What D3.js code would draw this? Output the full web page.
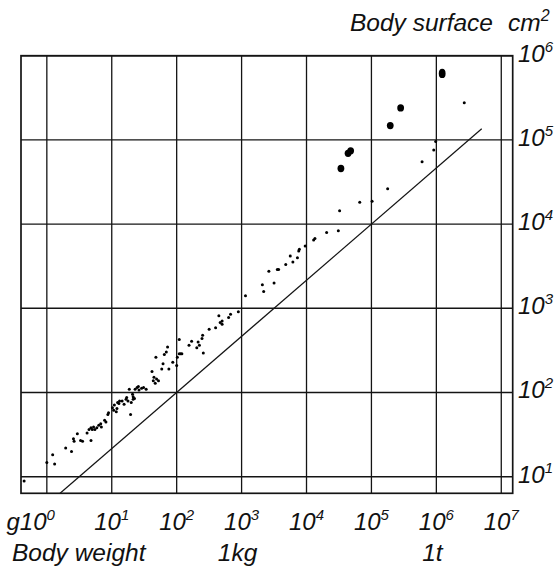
<!DOCTYPE html>
<html>
<head>
<meta charset="utf-8">
<script src="https://cdn.jsdelivr.net/npm/d3@7/dist/d3.min.js"></script>
<style>
  html, body { margin: 0; padding: 0; background: #fff; }
  svg { display: block; }
  text { font-family: "Liberation Sans", Arial, sans-serif; font-style: italic; fill: #111; }
</style>
</head>
<body>
<svg id="chart" width="554" height="570"></svg>
<script>
// Body weight (log10 g) and body surface (log10 cm²) of individual animals
const logWeight = [
  -0.35, 0.00, 0.09, 0.12, 0.29, 0.38, 0.41, 0.42, 0.47, 0.52,
   0.55, 0.62, 0.65, 0.68, 0.70, 0.72, 0.74, 0.77, 0.80, 0.83,
   0.68, 0.84, 0.89, 0.91, 0.94, 0.95, 1.01, 1.03, 1.04, 1.07,
   1.08, 1.09, 1.12, 1.11, 1.16, 1.19, 1.22, 1.23, 1.25, 1.27,
   1.29, 1.30, 1.32, 1.33, 1.35, 1.33, 1.36, 1.39, 1.41, 1.42,
   1.46, 1.49, 1.53, 1.62, 1.65, 1.64, 1.67, 1.69, 1.72, 1.68,
   1.77, 1.79, 1.81, 1.84, 1.86, 1.88, 1.94, 2.00, 2.01, 2.04,
   2.06, 2.08, 2.04, 2.19, 2.23, 2.31, 2.33, 2.35, 2.39, 2.40,
   2.41, 2.50, 2.60, 2.65, 2.67, 2.70, 2.70, 2.80, 2.83, 2.95,
   3.06, 3.32, 3.34, 3.42, 3.50, 3.55, 3.57, 3.68, 3.75, 3.79,
   3.86, 3.88, 3.89, 3.98, 4.11, 4.13, 4.31, 4.49, 4.51, 4.82,
   5.01, 5.25, 5.78, 5.96, 5.99, 6.43
];
const logSurface = [
   0.95, 1.17, 1.26, 1.15, 1.34, 1.30, 1.45, 1.42, 1.51, 1.43,
   1.42, 1.52, 1.56, 1.58, 1.56, 1.59, 1.56, 1.58, 1.61, 1.63,
   1.43, 1.59, 1.67, 1.65, 1.74, 1.76, 1.82, 1.79, 1.85, 1.77,
   1.81, 1.88, 1.90, 1.87, 1.90, 1.86, 1.92, 1.94, 1.90, 2.04,
   1.74, 1.88, 1.98, 1.95, 1.93, 1.92, 2.04, 2.06, 2.07, 2.03,
   2.05, 2.06, 2.04, 2.25, 2.18, 2.14, 2.11, 2.16, 2.14, 2.42,
   2.28, 2.34, 2.45, 2.48, 2.54, 2.28, 2.36, 2.32, 2.42, 2.46,
   2.46, 2.46, 2.63, 2.56, 2.61, 2.53, 2.60, 2.56, 2.64, 2.68,
   2.47, 2.75, 2.77, 2.91, 2.83, 2.85, 2.81, 2.89, 2.93, 2.96,
   3.15, 3.28, 3.20, 3.44, 3.30, 3.46, 3.46, 3.52, 3.62, 3.55,
   3.60, 3.68, 3.70, 3.74, 3.81, 3.83, 3.90, 3.92, 4.16, 4.26,
   4.27, 4.42, 4.74, 4.88, 4.98, 5.44
];

// Large animals, drawn with heavy dots
const bigLogWeight  = [4.53, 4.64, 4.68, 5.29, 5.45, 6.09];
const bigLogSurface = [4.66, 4.84, 4.87, 5.17, 5.38, 5.79];

// Decade ticks
const xTicks = [1e0, 1e1, 1e2, 1e3, 1e4, 1e5, 1e6, 1e7];
const xTickPowers = ["0", "1", "2", "3", "4", "5", "6", "7"];
const yTicks = [1e1, 1e2, 1e3, 1e4, 1e5, 1e6];
const yTickPowers = ["1", "2", "3", "4", "5", "6"];

// Reference line S = k · W^(2/3)
const lineCoef = 4.64;
const lineExponent = 2 / 3;
const lineWeights = [1.6, 5e6];

// Unit labels under the weight axis
const unitLabels = [{ w: 1e3, text: "1kg" }, { w: 1e6, text: "1t" }];

const svg = d3.select("#chart");
const x = d3.scaleLog().domain([0.4, 1.5e7]).range([21, 512.7]);
const y = d3.scaleLog().domain([6.35, 1e6]).range([493.3, 55.7]);

const ink = "#141414";

// Grid
const g = svg.append("g");
g.selectAll("line.vx").data(xTicks).join("line")
  .attr("x1", d => x(d)).attr("x2", d => x(d))
  .attr("y1", y.range()[0]).attr("y2", y.range()[1])
  .attr("stroke", ink).attr("stroke-width", 1.3);
g.selectAll("line.hy").data(yTicks).join("line")
  .attr("y1", d => y(d)).attr("y2", d => y(d))
  .attr("x1", x.range()[0]).attr("x2", x.range()[1])
  .attr("stroke", ink).attr("stroke-width", 1.4);
// Frame
g.append("rect")
  .attr("x", x.range()[0]).attr("y", y.range()[1])
  .attr("width", x.range()[1] - x.range()[0])
  .attr("height", y.range()[0] - y.range()[1])
  .attr("fill", "none").attr("stroke", ink).attr("stroke-width", 1.7);

// Reference line
const lineFn = d3.line().x(d => x(d)).y(d => y(lineCoef * Math.pow(d, lineExponent)));
svg.append("path").datum(lineWeights)
  .attr("d", lineFn).attr("fill", "none")
  .attr("stroke", ink).attr("stroke-width", 1.2);

// Small dots
const pts = logWeight.map((v, i) => [10 ** v, 10 ** logSurface[i]]);
svg.append("g").selectAll("circle").data(pts).join("circle")
  .attr("cx", d => x(d[0])).attr("cy", d => y(d[1]))
  .attr("r", 1.5).attr("fill", "#000");

// Heavy dots
const big = bigLogWeight.map((v, i) => [10 ** v, 10 ** bigLogSurface[i]]);
svg.append("g").selectAll("ellipse").data(big).join("ellipse")
  .attr("cx", d => x(d[0])).attr("cy", d => y(d[1]))
  .attr("rx", 3.4).attr("ry", (d, i) => i === big.length - 1 ? 4.7 : 3.7)
  .attr("fill", "#000");

// Weight axis labels
const xl = svg.append("g").attr("font-size", 24);
xTicks.forEach((t, i) => {
  const first = i === 0;
  const txt = xl.append("text")
    .attr("x", first ? x(t) + 8 : x(t))
    .attr("y", 530)
    .attr("text-anchor", first ? "end" : "middle");
  if (first) txt.append("tspan").text("g");
  txt.append("tspan").text("10");
  txt.append("tspan").attr("dy", -10).attr("font-size", 15).text(xTickPowers[i]);
});

// Surface axis labels
const yl = svg.append("g").attr("font-size", 24);
yTicks.forEach((t, i) => {
  const txt = yl.append("text").attr("x", 518).attr("y", y(t) + 6);
  txt.append("tspan").text("10");
  txt.append("tspan").attr("dy", -10).attr("font-size", 15).text(yTickPowers[i]);
});

// Axis titles
svg.append("text").attr("x", 12).attr("y", 561).attr("font-size", 24.5).text("Body weight");
unitLabels.forEach(u => {
  svg.append("text").attr("x", x(u.w) - 4).attr("y", 561)
    .attr("text-anchor", "middle").attr("font-size", 24.5).text(u.text);
});
svg.append("text").attr("x", 350).attr("y", 31).attr("font-size", 24.5).text("Body surface");
const cm = svg.append("text").attr("x", 508).attr("y", 31).attr("font-size", 24.5);
cm.append("tspan").text("cm");
cm.append("tspan").attr("dy", -10).attr("font-size", 16).text("2");
</script>
</body>
</html>
